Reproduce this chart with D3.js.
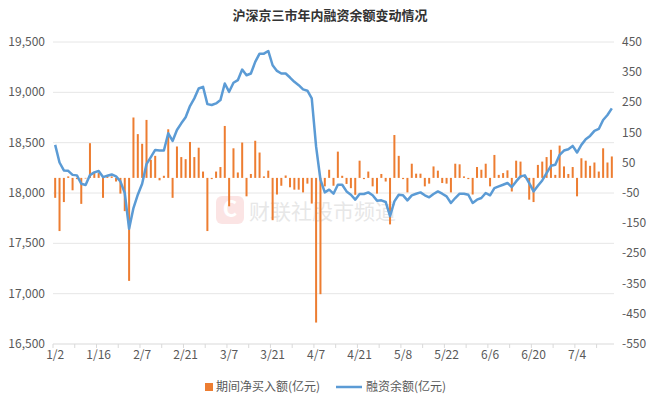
<!DOCTYPE html>
<html><head><meta charset="utf-8">
<script src="https://cdn.jsdelivr.net/npm/d3@7/dist/d3.min.js"></script>
<style>body{margin:0;background:#fff;font-family:"Microsoft YaHei","Noto Sans CJK SC",sans-serif}</style>
</head><body><svg id="c" width="657" height="408"></svg>
<script>
const categories = ["1/2","1/3","1/6","1/7","1/8","1/9","1/10","1/13","1/14","1/15","1/16","1/17","1/20","1/21","1/22","1/23","1/24","1/27",
"2/5","2/6","2/7","2/10","2/11","2/12","2/13","2/14","2/17","2/18","2/19","2/20","2/21","2/24","2/25","2/26","2/27","2/28",
"3/3","3/4","3/5","3/6","3/7","3/10","3/11","3/12","3/13","3/14","3/17","3/18","3/19","3/20","3/21","3/24","3/25","3/26","3/27","3/28","3/31",
"4/1","4/2","4/3","4/7","4/8","4/9","4/10","4/11","4/14","4/15","4/16","4/17","4/18","4/21","4/22","4/23","4/24","4/25","4/28","4/29","4/30",
"5/6","5/7","5/8","5/9","5/12","5/13","5/14","5/15","5/16","5/19","5/20","5/21","5/22","5/23","5/26","5/27","5/28","5/29","5/30",
"6/3","6/4","6/5","6/6","6/9","6/10","6/11","6/12","6/13","6/16","6/17","6/18","6/19","6/20","6/23","6/24","6/25","6/26","6/27","6/30",
"7/1","7/2","7/3","7/4","7/7","7/8","7/9","7/10","7/11","7/14","7/15","7/16"];
const tickLabels = ["1/2","1/16","2/7","2/21","3/7","3/21","4/7","4/21","5/8","5/22","6/6","6/20","7/4"];
const netBuy = [-66,-176,-80,5,-41,-4,-86,-2,115,16,16,-66,5,5,-12,-52,-110,-341,200,145,113,192,60,73,-8,7,161,-66,104,69,62,119,69,100,21,-176,-4,21,36,172,-94,98,18,117,-61,13,123,84,5,24,-140,-55,-26,8,-31,-39,-39,-48,-19,-85,-479,-385,-28,27,-26,87,7,-20,-34,-56,57,-4,21,-28,-52,13,-12,-154,142,73,-4,-48,47,14,14,-28,-19,38,24,-17,-19,-48,47,45,5,-4,-55,36,27,47,-28,76,10,16,25,-45,57,54,3,-72,-80,43,54,69,93,10,107,38,13,36,-61,65,57,40,51,21,98,51,71];
const balance = [18478,18303,18224,18220,18180,18175,18092,18080,18178,18205,18218,18158,18171,18184,18165,18115,18000,17644,17850,17983,18092,18287,18356,18428,18422,18422,18593,18517,18626,18692,18752,18864,18940,19038,19055,18883,18874,18890,18923,19088,19005,19095,19121,19226,19170,19187,19302,19384,19384,19411,19269,19213,19187,19187,19147,19104,19071,19029,19016,18940,18460,18132,18006,18033,17993,18082,18082,18016,17983,17934,17990,17990,18006,17977,17924,17927,17911,17769,17917,17983,17977,17927,17977,17993,18006,17977,17957,17990,18016,17993,17967,17901,17950,17993,17993,17983,17901,17934,17950,18000,17977,18049,18066,18082,18099,18059,18115,18165,18175,18099,18016,18072,18125,18198,18270,18280,18379,18422,18435,18468,18402,18478,18534,18567,18617,18636,18725,18775,18841];
const leftTicks = [16500,17000,17500,18000,18500,19000,19500];
const rightTicks = [-550,-450,-350,-250,-150,-50,50,150,250,350,450];

const svg = d3.select("#c");
const L=53, R=614, T=42, B=344;
const x = d3.scaleBand().domain(categories).range([L,R]);
const yL = d3.scaleLinear().domain([16500,19500]).range([B,T]);
const yR = d3.scaleLinear().domain([-550,450]).range([B,T]);
const grey="#595959";
svg.append("text").attr("x",330).attr("y",20).attr("text-anchor","middle").attr("font-size",13).attr("font-weight","bold").attr("fill","#333").text("沪深京三市年内融资余额变动情况");
// grid
svg.append("g").selectAll("line").data(leftTicks.slice(1)).join("line")
 .attr("x1",L).attr("x2",R).attr("y1",d=>yL(d)).attr("y2",d=>yL(d)).attr("stroke","#e6e6e6");
// watermark
const wm=svg.append("g").attr("opacity",0.35);
wm.append("rect").attr("x",216).attr("y",196).attr("width",28).attr("height",28).attr("rx",6).attr("fill","#f5b5b5");
wm.append("text").attr("x",230).attr("y",217).attr("text-anchor","middle").attr("font-size",22).attr("font-weight","bold").attr("fill","#fff").text("C");
wm.append("text").attr("x",249).attr("y",219).attr("font-size",21).attr("fill","#bbb").text("财联社股市频道");
// left axis labels
svg.append("g").selectAll("text").data(leftTicks).join("text")
 .attr("x",45).attr("y",d=>yL(d)+4).attr("text-anchor","end").attr("font-size",12).attr("fill",grey).text(d=>d3.format(",")(d));
svg.append("g").selectAll("text").data(rightTicks).join("text")
 .attr("x",622).attr("y",d=>yR(d)+4).attr("font-size",12).attr("fill",grey).text(d=>d);
// x axis
svg.append("line").attr("x1",L).attr("x2",R).attr("y1",B).attr("y2",B).attr("stroke","#d9d9d9");
svg.append("g").selectAll("line").data(categories.filter((d,i)=>i%5==0)).join("line")
 .attr("x1",d=>x(d)).attr("x2",d=>x(d)).attr("y1",B).attr("y2",B+4).attr("stroke","#d9d9d9");
svg.append("g").selectAll("text").data(tickLabels).join("text")
 .attr("x",d=>x(d)+x.bandwidth()/2).attr("y",B+15).attr("text-anchor","middle").attr("font-size",12).attr("fill",grey).text(d=>d);
// bars
svg.append("g").selectAll("rect").data(netBuy).join("rect")
 .attr("x",(d,i)=>x(categories[i])+x.bandwidth()/2-1).attr("width",2)
 .attr("y",d=>yR(Math.max(0,d))).attr("height",d=>Math.abs(yR(d)-yR(0))).attr("fill","#ED7D31");
// line
svg.append("path").datum(balance).attr("fill","none").attr("stroke","#5B9BD5").attr("stroke-width",2.5).attr("stroke-linejoin","round")
 .attr("d",d3.line().x((d,i)=>x(categories[i])+x.bandwidth()/2).y(d=>yL(d)));
// legend
svg.append("rect").attr("x",205).attr("y",383).attr("width",8).attr("height",8).attr("fill","#ED7D31");
svg.append("text").attr("x",216).attr("y",391).attr("font-size",12).attr("fill",grey).text("期间净买入额(亿元)");
svg.append("line").attr("x1",336).attr("x2",362).attr("y1",387).attr("y2",387).attr("stroke","#5B9BD5").attr("stroke-width",2.5);
svg.append("text").attr("x",366).attr("y",391).attr("font-size",12).attr("fill",grey).text("融资余额(亿元)");
</script></body></html>
